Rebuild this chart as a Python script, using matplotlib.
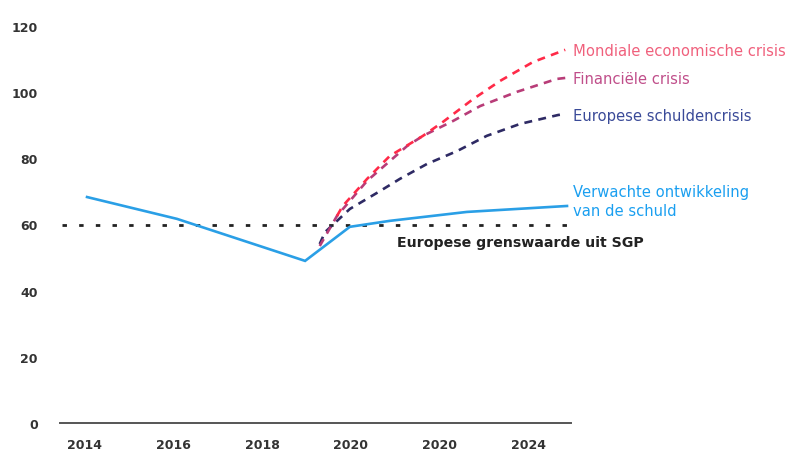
import matplotlib
matplotlib.use("Agg")
import matplotlib.pyplot as plt

# ---- data ----
tick_years = [2014, 2016, 2018, 2020, 2022, 2024]
tick_labels = ["2014", "2016", "2018", "2020", "2020", "2024"]
y_ticks = [0, 20, 40, 60, 80, 100, 120]

verwacht_x = [2014.05, 2016.08, 2018.97, 2019.98, 2020.88, 2022.62, 2024.88]
verwacht_y = [68.3, 61.7, 49.0, 59.3, 61.1, 63.8, 65.6]

mondiaal_x = [2019.69, 2019.82, 2020.37, 2020.88, 2021.63, 2022.08, 2022.76, 2023.37, 2024.11, 2024.84]
mondiaal_y = [62.6, 65.6, 73.8, 80.7, 86.8, 91.0, 97.9, 103.4, 109.1, 112.8]

financieel_x = [2019.30, 2019.69, 2020.37, 2021.27, 2021.63, 2022.31, 2022.92, 2023.75, 2024.65, 2024.84]
financieel_y = [53.5, 62.6, 73.2, 83.7, 86.8, 91.3, 95.8, 100.1, 104.0, 104.3]

europees_x = [2019.30, 2019.42, 2019.98, 2020.66, 2021.11, 2021.72, 2022.40, 2023.07, 2023.82, 2024.68, 2024.84]
europees_y = [54.1, 57.7, 64.7, 70.1, 73.8, 78.3, 82.2, 86.8, 90.4, 93.1, 93.4]

grens_x = [2013.48, 2024.9]
grens_y = [60, 60]

# ---- figure ----
W, H = 789, 456
fig = plt.figure(figsize=(W / 100, H / 100), dpi=100)
ax = fig.add_axes([60 / W, (H - 424) / H, (571 - 60) / W, (424 - 27) / H])
ax.set_xlim(2013.44, 2024.97)
ax.set_ylim(0, 120)

ax.plot(grens_x, grens_y, color="#222222", lw=2.0, dashes=(1.6, 4.4), zorder=2)
ax.plot(verwacht_x, verwacht_y, color="#2a9fe6", lw=1.9, zorder=3, solid_joinstyle="miter")
ax.plot(europees_x, europees_y, color="#2e2a64", lw=1.9, dashes=(3.0, 2.4), zorder=4)
ax.plot(financieel_x, financieel_y, color="#b83c78", lw=1.9, dashes=(3.0, 2.4), zorder=4)
ax.plot(mondiaal_x, mondiaal_y, color="#ff2a48", lw=1.9, dashes=(3.0, 2.4), zorder=5)

for s in ["top", "right", "left"]:
    ax.spines[s].set_visible(False)
ax.spines["bottom"].set_color("#555555")
ax.spines["bottom"].set_linewidth(1.4)

ax.set_xticks(tick_years)
ax.set_xticklabels(tick_labels)
ax.set_yticks(y_ticks)
ax.tick_params(axis="both", length=0, labelsize=9, labelcolor="#333333")
ax.tick_params(axis="y", pad=16)
ax.tick_params(axis="x", pad=11)
for lbl in ax.get_xticklabels() + ax.get_yticklabels():
    lbl.set_fontweight("bold")

def fx(px):
    return px / W

def fy(py):
    return 1 - py / H

fs = 10.6
fig.text(fx(573), fy(52), "Mondiale economische crisis", color="#f0607c", fontsize=fs, va="center", ha="left")
fig.text(fx(573), fy(79), "Financiële crisis", color="#c04e8a", fontsize=fs, va="center", ha="left")
fig.text(fx(573), fy(116), "Europese schuldencrisis", color="#3a4a98", fontsize=fs, va="center", ha="left")
fig.text(fx(573), fy(193), "Verwachte ontwikkeling", color="#1a9ff0", fontsize=fs, va="center", ha="left")
fig.text(fx(573), fy(212), "van de schuld", color="#1a9ff0", fontsize=fs, va="center", ha="left")
fig.text(fx(397), fy(243), "Europese grenswaarde uit SGP", color="#222222", fontsize=10.2,
         fontweight="bold", va="center", ha="left")

fig.savefig("out.png", dpi=100)
